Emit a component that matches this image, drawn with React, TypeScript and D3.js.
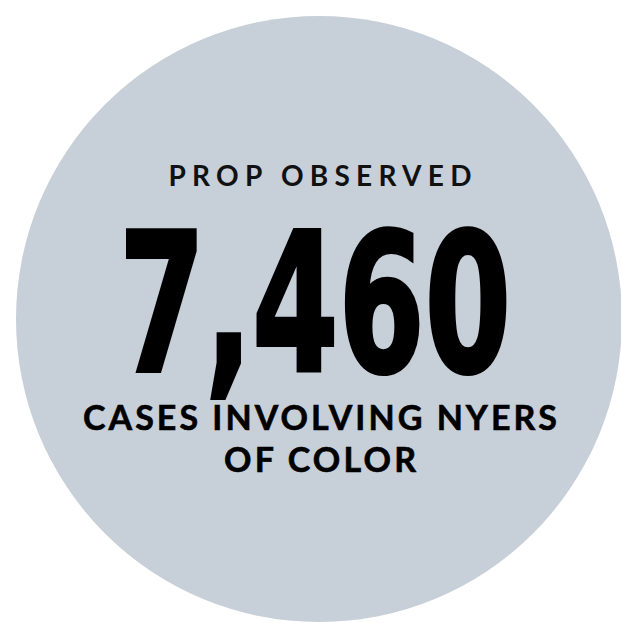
import React from "react";
import * as d3 from "d3";

const value = 7460;
const kicker = "PROP OBSERVED";
const captionLines = ["CASES INVOLVING NYERS", "OF COLOR"];
const captionWidths = [474, 192];

const W = 621;
const H = 623;

const App = () => {
  const fmt = d3.format(",");
  const cx = 319;
  const cy = 319;
  const r = 303;
  // y positions of the text rows
  const y = d3.scaleOrdinal<string, number>().domain(["kicker", "num", "l0", "l1"]).range([186, 372, 430, 472]);

  return (
    <div style={{ position: "absolute", left: 0, top: 0 }}>
      <svg width={W} height={H} style={{ display: "block" }}>
        <rect width={W} height={H} fill="#ffffff" />
        <circle cx={cx} cy={cy} r={r} fill="#c7cfd8" />
        <text
          x={320}
          y={y("kicker")}
          textAnchor="middle"
          fontFamily="Lato"
          fontWeight="bold"
          fontSize={28}
          textLength={303}
          lengthAdjust="spacing"
          fill="#111"
        >
          {kicker}
        </text>
        <text
          x={315}
          y={y("num") - 1}
          textAnchor="middle"
          fontFamily="DejaVu Sans"
          fontWeight="bold"
          fontSize={192}
          textLength={392}
          lengthAdjust="spacingAndGlyphs"
          fill="#000"
          stroke="#000"
          strokeWidth={4}
        >
          {fmt(value)}
        </text>
        {captionLines.map((t, i) => (
          <text
            key={t}
            x={320}
            y={y("l" + i)}
            textAnchor="middle"
            fontFamily="Lato"
            fontWeight="bold"
            fontSize={34}
            textLength={captionWidths[i]}
            lengthAdjust="spacing"
            fill="#000"
            stroke="#000"
            strokeWidth={0.6}
          >
            {t}
          </text>
        ))}
      </svg>
    </div>
  );
};

export default App;
